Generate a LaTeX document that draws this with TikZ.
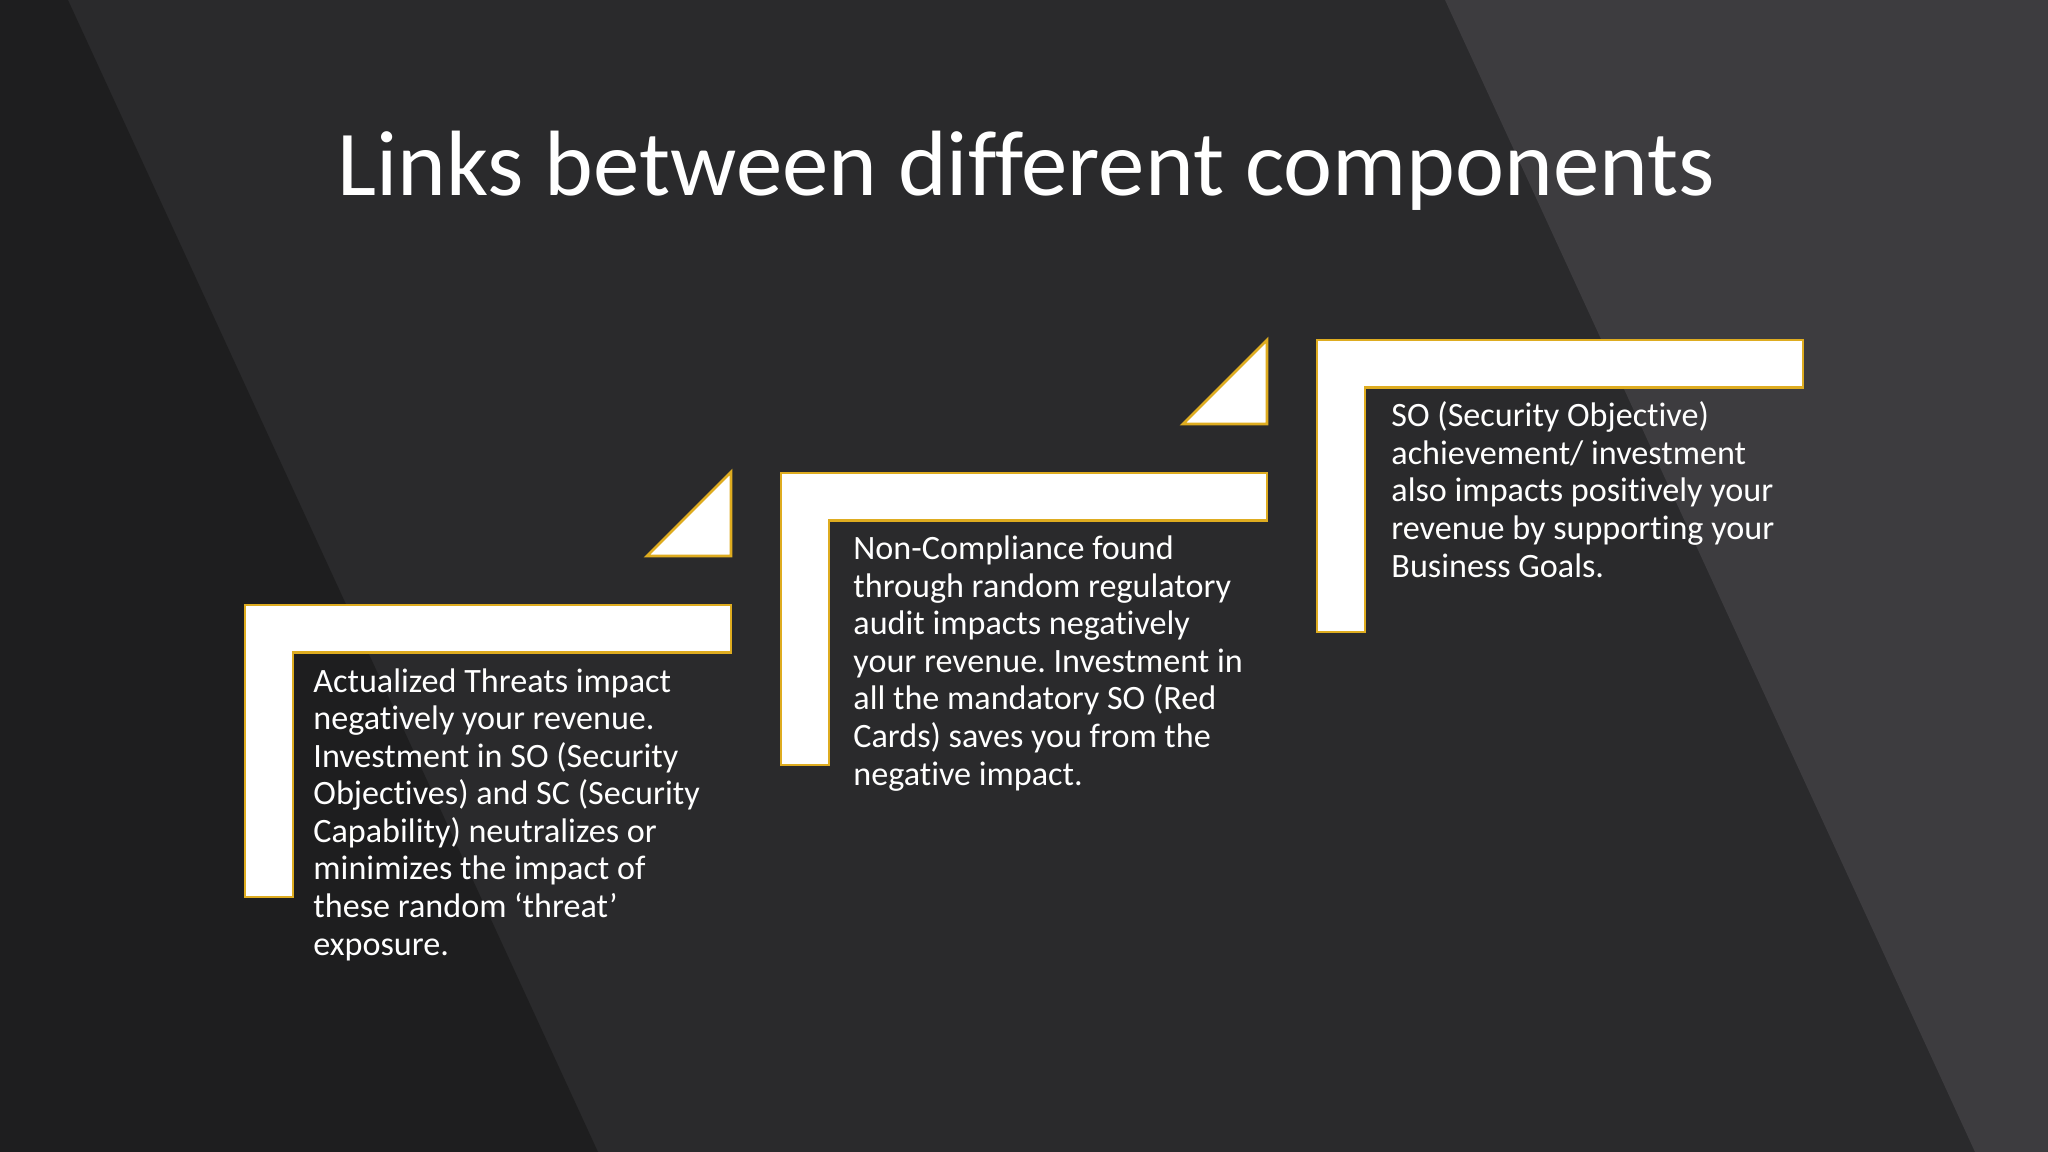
\documentclass[tikz,border=0pt]{standalone}
\usepackage{fontspec}
\setmainfont{Carlito}[Ligatures=NoCommon]
\usepackage{tikz}
\usetikzlibrary{positioning}
\definecolor{bgmid}{RGB}{42,42,44}
\definecolor{bgdark}{RGB}{30,30,31}
\definecolor{bglight}{RGB}{61,60,63}
\definecolor{gold}{RGB}{222,172,32}
\frenchspacing

\begin{document}
\begin{tikzpicture}[x=0.46875pt, y=-0.46875pt,
      bar/.style={fill=white, draw=gold, line width=1.3pt},
      txt/.style={anchor=base west, align=left, text=white, inner sep=0pt,
        font=\fontsize{16}{17.6}\selectfont}]
    % background bands
    \useasboundingbox (0,0) rectangle (2048,1152);
    \fill[bgmid] (0,0) rectangle (2048,1152);
    \fill[bgdark] (0,0) -- (68,0) -- (598,1152) -- (0,1152) -- cycle;
    \fill[bglight] (1445,0) -- (2048,0) -- (2048,1152) -- (1975,1152) -- cycle;
    \node (title) [anchor=base, text=white, inner sep=0pt,
      font=\fontsize{43.5}{50}\selectfont] at (1026,196) {Links between different components};
    % steps
    \coordinate (s1) at (245,605);
    \coordinate (s2) at (781,473);
    \coordinate (s3) at (1317,340);
    \draw[bar] (s1) -- ++(486,0) -- ++(0,47.5) -- ++(-438,0) -- ++(0,244.5) -- ++(-48,0) -- cycle;
    \draw[bar] (s2) -- ++(486,0) -- ++(0,47.5) -- ++(-438,0) -- ++(0,244.5) -- ++(-48,0) -- cycle;
    \draw[bar] (s3) -- ++(486,0) -- ++(0,47.5) -- ++(-438,0) -- ++(0,244.5) -- ++(-48,0) -- cycle;
    \draw[bar] (s1) ++(486,-49) -- ++(0,-84) -- ++(-84,84) -- cycle;
    \draw[bar] (s2) ++(486,-49) -- ++(0,-84) -- ++(-84,84) -- cycle;
    % text blocks (anchored on last line)
    \node (threats) [txt] at (313,955) {Actualized Threats impact\\negatively your revenue.\\Investment in SO (Security\\Objectives) and SC (Security\\Capability) neutralizes or\\minimizes the impact of\\these random ‘threat’\\exposure.};
    \node (audit) [txt] at (853,785) {Non-Compliance found\\through random regulatory\\audit impacts negatively\\your revenue. Investment in\\all the mandatory SO (Red\\Cards) saves you from the\\negative impact.};
    \node (goals) [txt] at (1391,577) {SO (Security Objective)\\achievement/ investment\\also impacts positively your\\revenue by supporting your\\Business Goals.};
  \end{tikzpicture}
\end{document}
